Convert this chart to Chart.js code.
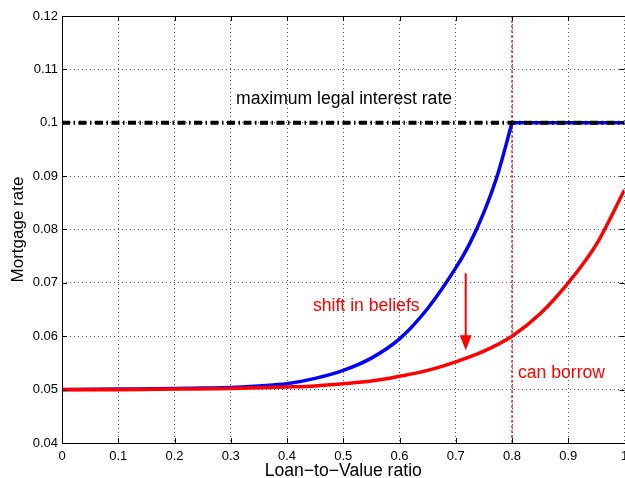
<!DOCTYPE html>
<html>
<head>
<meta charset="utf-8">
<script src="https://cdn.jsdelivr.net/npm/chart.js@4.4.0/dist/chart.umd.min.js"></script>
<style>
  html, body { margin: 0; padding: 0; background: #fff; overflow: hidden; }
  #wrap { width: 625px; height: 478px; }
</style>
</head>
<body>
<div id="wrap"><canvas id="rateChart"></canvas></div>
<script>
// axis ticks
const xTicks = [0, 0.1, 0.2, 0.3, 0.4, 0.5, 0.6, 0.7, 0.8, 0.9, 1];
const yTicks = [0.04, 0.05, 0.06, 0.07, 0.08, 0.09, 0.1, 0.11, 0.12];

// blue curve (before the shift in beliefs)
const xBlue = [0, 0.1, 0.2, 0.25, 0.3, 0.35, 0.4, 0.45, 0.5, 0.55, 0.6, 0.65, 0.7, 0.725, 0.75, 0.775, 0.8];
const yBlue = [0.05, 0.0501, 0.0502, 0.0503, 0.0504, 0.0507, 0.0511, 0.0521, 0.0536, 0.0559, 0.0595, 0.0652, 0.0728, 0.0774, 0.0832, 0.0905, 0.1];
// blue stays on the cap after 0.8
const xBlueCap = [0.8, 1];
const yBlueCap = [0.1, 0.1];

// red curve (after the shift)
const xRed = [0, 0.1, 0.2, 0.3, 0.4, 0.45, 0.5, 0.55, 0.6, 0.65, 0.7, 0.75, 0.8, 0.85, 0.9, 0.95, 1];
const yRed = [0.05, 0.05, 0.0501, 0.0502, 0.0505, 0.0507, 0.0511, 0.0516, 0.0525, 0.0536, 0.0552, 0.0572, 0.06, 0.0642, 0.07, 0.0772, 0.0874];

// maximum legal interest rate
const xCap = [0, 1];
const yCap = [0.1, 0.1];

// borrowing limit
const xLimit = [0.8, 0.8];
const yLimit = [0.04, 0.12];

function toPoints(xs, ys) {
    return xs.map((x, i) => ({ x: x, y: ys[i] }));
}

function fmt(v) {
    return String(Number(v.toFixed(2)));
}

// 🔹 box + inward ticks, like the original figure
const boxPlugin = {
    id: 'boxPlugin',
    afterDraw(chart) {
        const { ctx, chartArea: a, scales } = chart;
        ctx.save();
        ctx.strokeStyle = '#000';
        ctx.lineWidth = 1;
        ctx.setLineDash([]);
        ctx.strokeRect(Math.round(a.left) + 0.5, Math.round(a.top) + 0.5, Math.round(a.right - a.left), Math.round(a.bottom - a.top));
        ctx.beginPath();
        xTicks.forEach(v => {
            const px = Math.round(scales.x.getPixelForValue(v)) + 0.5;
            ctx.moveTo(px, a.bottom); ctx.lineTo(px, a.bottom - 5);
            ctx.moveTo(px, a.top); ctx.lineTo(px, a.top + 5);
        });
        yTicks.forEach(v => {
            const py = Math.round(scales.y.getPixelForValue(v)) + 0.5;
            ctx.moveTo(a.left, py); ctx.lineTo(a.left + 5, py);
            ctx.moveTo(a.right, py); ctx.lineTo(a.right - 5, py);
        });
        ctx.stroke();
        ctx.restore();
    }
};

// 🔹 text labels and the arrow
const notes = [
    { text: 'maximum legal interest rate', x: 0.3093, y: 0.1035, color: '#000' },
    { text: 'shift in beliefs', x: 0.4462, y: 0.0647, color: '#ff0000' },
    { text: 'can borrow', x: 0.8107, y: 0.0522, color: '#ff0000' }
];
const arrow = { x: 0.7177, yFrom: 0.0718, yTo: 0.0574 };

const notePlugin = {
    id: 'notePlugin',
    afterDatasetsDraw(chart) {
        const { ctx, scales } = chart;
        ctx.save();
        ctx.font = '17.6px "Liberation Sans", Arial, sans-serif';
        ctx.textBaseline = 'alphabetic';
        ctx.textAlign = 'left';
        notes.forEach(n => {
            ctx.fillStyle = n.color;
            ctx.fillText(n.text, scales.x.getPixelForValue(n.x), scales.y.getPixelForValue(n.y));
        });

        const ax = scales.x.getPixelForValue(arrow.x);
        const y1 = scales.y.getPixelForValue(arrow.yFrom);
        const y2 = scales.y.getPixelForValue(arrow.yTo);
        ctx.strokeStyle = '#ff0000';
        ctx.fillStyle = '#ff0000';
        ctx.lineWidth = 2;
        ctx.beginPath();
        ctx.moveTo(ax, y1);
        ctx.lineTo(ax, y2 - 10);
        ctx.stroke();
        ctx.beginPath();
        ctx.moveTo(ax, y2);
        ctx.lineTo(ax - 6, y2 - 15);
        ctx.lineTo(ax + 6, y2 - 15);
        ctx.closePath();
        ctx.fill();
        ctx.restore();
    }
};

Chart.defaults.font.family = '"Liberation Sans", Arial, sans-serif';
Chart.defaults.color = '#000';

const ctx = document.getElementById('rateChart').getContext('2d');
new Chart(ctx, {
    type: 'scatter',
    data: {
        datasets: [
            {
                data: toPoints(xCap, yCap),
                showLine: true,
                borderColor: '#000',
                borderWidth: 4,
                borderDash: [8, 3.5, 1.5, 3.5],
                pointRadius: 0,
                order: 0
            },
            {
                data: toPoints(xRed, yRed),
                showLine: true,
                borderColor: '#ff0000',
                borderWidth: 3.5,
                cubicInterpolationMode: 'monotone',
                pointRadius: 0,
                order: 1
            },
            {
                data: toPoints(xBlueCap, yBlueCap),
                showLine: true,
                borderColor: '#0000ff',
                borderWidth: 3.5,
                pointRadius: 0,
                order: 2
            },
            {
                data: toPoints(xBlue, yBlue),
                showLine: true,
                borderColor: '#0000ff',
                borderWidth: 3.5,
                cubicInterpolationMode: 'monotone',
                pointRadius: 0,
                order: 3
            },
            {
                data: toPoints(xLimit, yLimit),
                showLine: true,
                borderColor: 'rgba(255,0,0,0.6)',
                borderWidth: 2,
                borderDash: [3, 2],
                pointRadius: 0,
                order: 5
            }
        ]
    },
    options: {
        responsive: true,
        maintainAspectRatio: false,
        animation: false,
        events: [],
        layout: { padding: { top: 16, right: 0.5, left: 0, bottom: 0 } },
        plugins: {
            legend: { display: false },
            tooltip: { enabled: false }
        },
        scales: {
            x: {
                type: 'linear',
                min: 0,
                max: 1,
                afterBuildTicks: s => { s.ticks = xTicks.map(v => ({ value: v })); },
                afterFit: s => { s.height = 35; s.paddingLeft = 0; s.paddingRight = 0; },
                ticks: {
                    font: { size: 13 },
                    padding: 6,
                    maxRotation: 0,
                    autoSkip: false,
                    callback: v => fmt(v)
                },
                grid: { color: 'rgba(0,0,0,0.65)', lineWidth: 1, drawTicks: false },
                border: { display: false, dash: [1, 3] },
                title: {
                    display: true,
                    text: 'Loan\u2212to\u2212Value ratio',
                    font: { size: 17.6, lineHeight: 1 },
                    padding: { top: 0, bottom: -2 }
                }
            },
            y: {
                type: 'linear',
                min: 0.04,
                max: 0.12,
                afterBuildTicks: s => { s.ticks = yTicks.map(v => ({ value: v })); },
                afterFit: s => { s.width = 62; s.paddingTop = 0; s.paddingBottom = 0; },
                ticks: {
                    font: { size: 13 },
                    padding: 4,
                    autoSkip: false,
                    callback: v => fmt(v)
                },
                grid: { color: 'rgba(0,0,0,0.65)', lineWidth: 1, drawTicks: false },
                border: { display: false, dash: [1, 3] },
                title: {
                    display: true,
                    text: 'Mortgage rate',
                    font: { size: 17, lineHeight: 1.2 },
                    padding: { top: 8, bottom: 0 }
                }
            }
        }
    },
    plugins: [boxPlugin, notePlugin]
});
</script>
</body>
</html>
